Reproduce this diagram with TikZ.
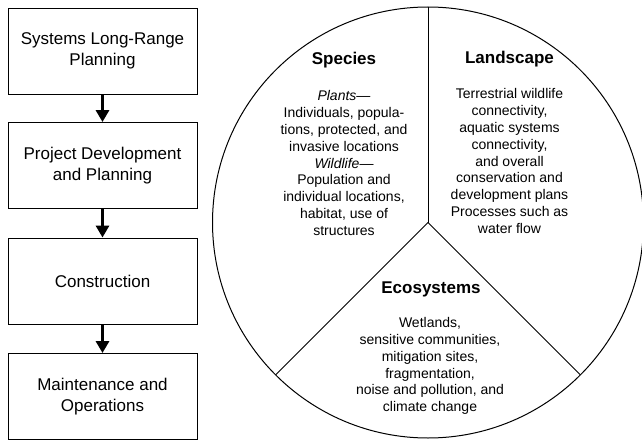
\documentclass[tikz,border=0pt]{standalone}
\usepackage{fontspec}
\setmainfont{Liberation Sans}
\usetikzlibrary{arrows.meta}
\begin{document}
\begin{tikzpicture}[x=1pt,y=-1pt,
  stagebox/.style={draw,line width=0.9pt,minimum width=189pt,minimum height=86pt,
    inner sep=0pt,align=center,font=\fontsize{17}{20.5}\selectfont},
  flowarrow/.style={line width=3pt,-{Triangle[width=13pt,length=12pt]}},
  heading/.style={font=\fontsize{17}{20}\selectfont\bfseries,inner sep=0pt,anchor=base},
  bodytext/.style={font=\fontsize{14}{16.8}\selectfont,align=center,inner sep=0pt},
  divider/.style={line width=0.9pt}]
\useasboundingbox (0,0) rectangle (642,441);

% planning stages
\node[stagebox] (s1) at (102.5,51) {Systems Long-Range\\Planning};
\node[stagebox] (s2) at (102.5,165.5) {Project Development\\and Planning};
\node[stagebox] (s3) at (102.5,281) {Construction};
\node[stagebox] (s4) at (102.5,396.5) {Maintenance and\\Operations};
\draw[flowarrow] (s1) -- (s2);
\draw[flowarrow] (s2) -- (s3);
\draw[flowarrow] (s3) -- (s4);

% three-part circle
\coordinate (c) at (428,222.5);
\coordinate (top) at (428,7);
\coordinate (lowleft) at (275.6,374.9);
\coordinate (lowright) at (580.4,374.9);
\draw[line width=1pt] (c) circle[radius=215.5pt];
\draw[divider] (c) -- (top);
\draw[divider] (c) -- (lowleft);
\draw[divider] (c) -- (lowright);

% Species
\node[heading] (hs) at (344,65) {Species};
\node[bodytext] (bs) at (344,163) {\textit{Plants}—\\Individuals, popula-\\tions, protected, and\\invasive locations\\\textit{Wildlife}—\\Population and\\individual locations,\\habitat, use of\\structures};

% Landscape
\node[heading] (hl) at (509.5,64) {Landscape};
\node[bodytext] (bl) at (509.5,161) {Terrestrial wildlife\\connectivity,\\aquatic systems\\connectivity,\\and overall\\conservation and\\development plans\\Processes such as\\water flow};

% Ecosystems
\node[heading] (he) at (431,293) {Ecosystems};
\node[bodytext] (be) at (430,366) {Wetlands,\\sensitive communities,\\mitigation sites,\\fragmentation,\\noise and pollution, and\\climate change};
\end{tikzpicture}
\end{document}
